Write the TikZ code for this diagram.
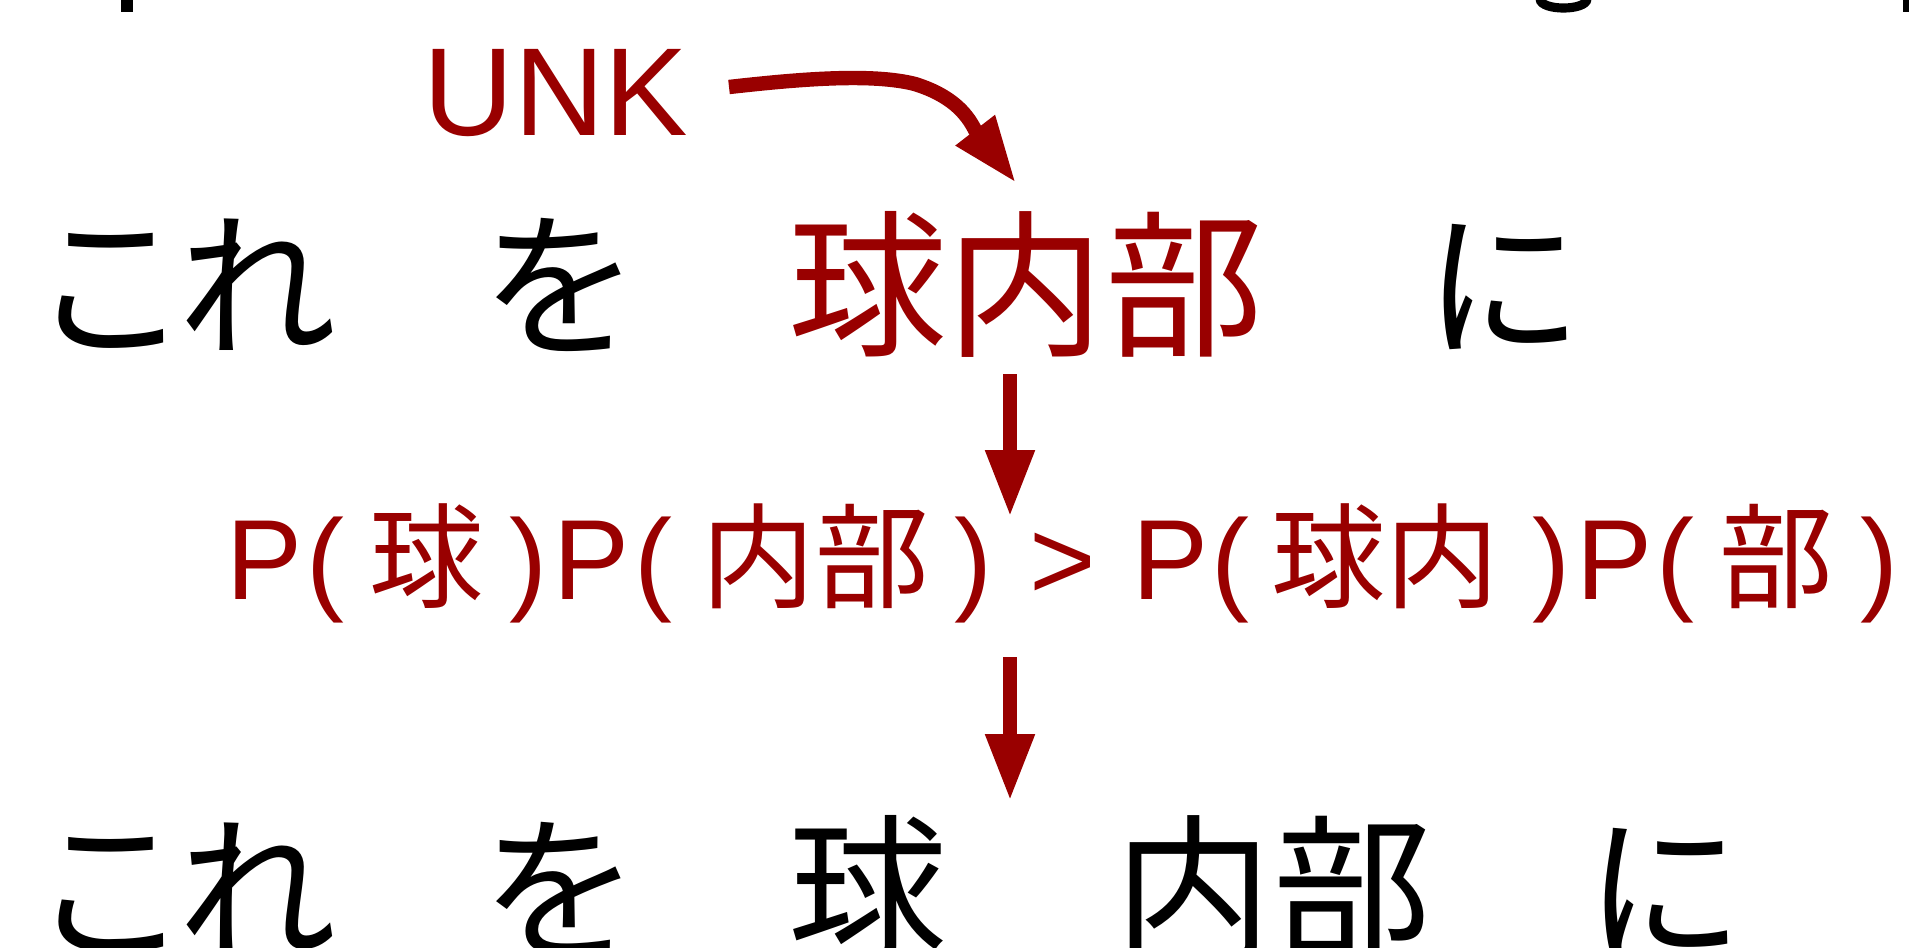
\documentclass[tikz,border=0pt]{standalone}
\usepackage{fontspec}
\setmainfont{Liberation Sans}
\newfontfamily\cjk{Noto Sans CJK JP}
\usetikzlibrary{arrows.meta}
\definecolor{unkred}{HTML}{990000}
\begin{document}
\begin{tikzpicture}[x=0.01cm,y=-0.01cm,
  big/.style={inner sep=0pt, anchor=base, font=\cjk\fontsize{45pt}{50pt}\selectfont},
  formula/.style={inner sep=0pt, anchor=base, text=unkred, font=\fontsize{32.4pt}{36pt}\selectfont},
  formulacjk/.style={inner sep=0pt, anchor=base, text=unkred, font=\cjk\fontsize{32.4pt}{36pt}\selectfont},
  unklabel/.style={inner sep=0pt, anchor=base, text=unkred, font=\fontsize{35.6pt}{40pt}\selectfont},
  bigarrow/.style={draw=unkred, line width=4.1pt, -{Triangle[length=19pt,width=13pt]}},
]
\useasboundingbox (0,0) rectangle (1909,947);

% fragments of a row above, cut off by the frame
\fill (121,0) rectangle (133,12);
\fill (1903,0) rectangle (1909,12);
\draw[line width=2.6pt] (1540,-1) .. controls (1541,11) and (1586,11) .. (1587,-1);

% UNK label and curved arrow
\node[unklabel] (unk) at (556,135) {UNK};
\coordinate (c0) at (729,87);
\coordinate (cb) at (975,130);
\coordinate (c1) at (1016,183);
\draw[bigarrow] (c0) .. controls (800,79) and (872,73) .. (915,84) .. controls (950,95) and (966,112) .. (cb) -- (c1);

% row 1
\node[big] (kore1) at (184,344) {こ\kern-3pt れ};
\node[big] (wo1) at (561,344) {を};
\node[big, text=unkred] (kyunaibu1) at (1026,344) {球内部};
\node[big] (ni1) at (1504,344) {に};

% arrow 1
\coordinate (a1s) at (1010,374);
\coordinate (a1e) at (1010,517);
\draw[bigarrow] (a1s) -- (a1e);

% row 2
\node[formula] (p1) at (264,599) {P};
\node[formula] (l1) at (325,599) {(};
\node[formulacjk] (k1) at (426,599) {球};
\node[formula] (r1) at (528,599) {)};
\node[formula] (p2) at (591,599) {P};
\node[formula] (l2) at (653,599) {(};
\node[formulacjk] (k2) at (815,599) {内部};
\node[formula] (r2) at (973,599) {)};
\node[formula] (gt) at (1063,599) {>};
\node[formula] (p3) at (1170,599) {P};
\node[formula] (l3) at (1230,599) {(};
\node[formulacjk] (k3) at (1385,599) {球内};
\node[formula] (r3) at (1551,599) {)};
\node[formula] (p4) at (1614,599) {P};
\node[formula] (l4) at (1675,599) {(};
\node[formulacjk] (k4) at (1776,599) {部};
\node[formula] (r4) at (1879,599) {)};

% arrow 2
\coordinate (a2s) at (1010,657);
\coordinate (a2e) at (1010,801);
\draw[bigarrow] (a2s) -- (a2e);

% row 3 (cut off by the bottom of the frame)
\node[big] (kore3) at (184,948) {こ\kern-3pt れ};
\node[big] (wo3) at (561,948) {を};
\node[big] (kyu3) at (868,948) {球};
\node[big] (naibu3) at (1273,948) {内部};
\node[big] (ni3) at (1665,948) {に};
\end{tikzpicture}
\end{document}
